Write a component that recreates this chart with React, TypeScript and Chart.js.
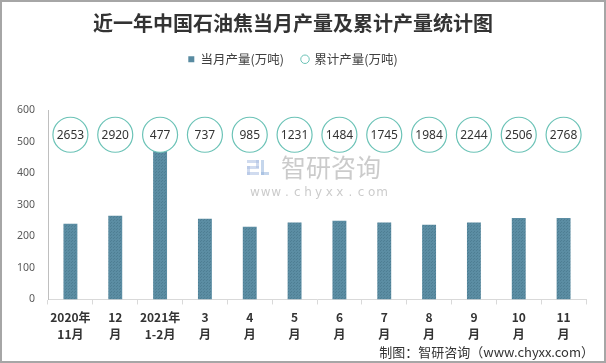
import React, { useEffect, useRef } from 'react';
import { Chart, registerables } from 'chart.js';

Chart.register(...registerables);

// ---- data ----
const categories: string[][] = [
  ['2020年', '11月'], ['12', '月'], ['2021年', '1-2月'], ['3', '月'], ['4', '月'], ['5', '月'],
  ['6', '月'], ['7', '月'], ['8', '月'], ['9', '月'], ['10', '月'], ['11', '月'],
];
const monthlyOutput = [240, 266, 477, 256, 231, 244, 250, 244, 237, 244, 259, 259];
const cumulativeOutput = [2653, 2920, 477, 737, 985, 1231, 1484, 1745, 1984, 2244, 2506, 2768];
const yMin = 0;
const yMax = 600;
const yStep = 100;

const TITLE = '近一年中国石油焦当月产量及累计产量统计图';
const LEGEND_MONTH = '当月产量(万吨)';
const LEGEND_CUM = '累计产量(万吨)';
const CREDIT = '制图：智研咨询（www.chyxx.com）';
const WM_CN = '智研咨询';
const WM_EN = 'www.chyxx.com';

// level (on the y scale) of the row of cumulative-value bubbles
const CUM_ROW_LEVEL = 523;

const CJK = '"Noto Sans CJK SC", "Noto Sans", sans-serif';
const BAR_COLOR = '#598ba1';
const CIRCLE_COLOR = '#6cc3b7';

export default function App() {
  const ref = useRef<HTMLCanvasElement | null>(null);

  useEffect(() => {
    const canvas = ref.current;
    if (!canvas) return;
    const ctx0 = canvas.getContext('2d')!;
    const pc = document.createElement('canvas');
    pc.width = 3; pc.height = 3;
    const pg = pc.getContext('2d')!;
    pg.fillStyle = '#5b8da3'; pg.fillRect(0, 0, 3, 3);
    pg.fillStyle = '#4e7e93'; pg.fillRect(0, 0, 1, 1); pg.fillRect(2, 1, 1, 1);
    const barPattern = ctx0.createPattern(pc, 'repeat') || BAR_COLOR;

    const framePlugin = {
      id: 'frame',
      beforeDraw(chart: any) {
        const c = chart.ctx;
        c.save();
        c.fillStyle = '#ffffff';
        c.fillRect(0, 0, chart.width, chart.height);
        c.restore();
      },
      afterDraw(chart: any) {
        const c = chart.ctx;
        c.save();
        c.strokeStyle = '#a6a6a6';
        c.lineWidth = 2;
        c.strokeRect(1, 1, chart.width - 2, chart.height - 2);
        c.fillStyle = '#333333';
        c.font = `13px ${CJK}`;
        c.textAlign = 'right';
        c.textBaseline = 'middle';
        c.fillText(CREDIT, chart.width - 12, 352);
        c.restore();
      },
    };

    const watermarkPlugin = {
      id: 'watermark',
      beforeDatasetsDraw(chart: any) {
        const c = chart.ctx;
        const cx = (chart.chartArea.left + chart.chartArea.right) / 2;
        c.save();
        c.fillStyle = 'rgba(170,190,225,0.55)';
        const lx = cx - 70, ly = 160;
        c.fillRect(lx, ly, 12, 3);
        c.fillRect(lx + 9, ly, 3, 8);
        c.fillRect(lx, ly + 6, 12, 3);
        c.fillRect(lx, ly + 6, 3, 9);
        c.fillRect(lx, ly + 12, 12, 3);
        c.fillStyle = 'rgba(150,180,220,0.55)';
        c.fillRect(lx + 14, ly, 3, 15);
        c.fillRect(lx + 14, ly + 12, 8, 3);
        c.fillStyle = 'rgba(160,160,160,0.55)';
        c.font = `25px ${CJK}`;
        c.textAlign = 'left';
        c.textBaseline = 'middle';
        c.fillText(WM_CN, cx - 36, 167);
        c.font = '12px "DejaVu Sans", sans-serif';
        c.textAlign = 'center';
        WM_EN.split('').forEach((ch, i) => {
          c.fillText(ch, cx - 62 + i * 10.6, 193);
        });
        c.restore();
      },
    };

    const cumLabelPlugin = {
      id: 'cumLabels',
      afterDatasetsDraw(chart: any) {
        const meta = chart.getDatasetMeta(1);
        const c = chart.ctx;
        c.save();
        c.fillStyle = '#333333';
        c.font = '12px "Noto Sans", sans-serif';
        c.textAlign = 'center';
        c.textBaseline = 'middle';
        meta.data.forEach((el: any, i: number) => {
          c.fillText(String(cumulativeOutput[i]), el.x, el.y + 0.5);
        });
        c.restore();
      },
    };

    const chart = new Chart(canvas, {
      type: 'bar',
      data: {
        labels: categories,
        datasets: [
          {
            type: 'bar',
            label: LEGEND_MONTH,
            data: monthlyOutput,
            backgroundColor: barPattern as any,
            borderWidth: 0,
            barPercentage: 0.31,
            categoryPercentage: 1,
            order: 2,
          },
          {
            type: 'line',
            label: LEGEND_CUM,
            data: cumulativeOutput.map(() => CUM_ROW_LEVEL),
            showLine: false,
            pointRadius: 17.5,
            pointHoverRadius: 17.5,
            pointBackgroundColor: '#ffffff',
            pointBorderColor: CIRCLE_COLOR,
            pointBorderWidth: 1.2,
            borderColor: CIRCLE_COLOR,
            backgroundColor: '#ffffff',
            order: 1,
          } as any,
        ],
      },
      options: {
        responsive: false,
        animation: false,
        events: [],
        layout: { padding: { left: 0, right: 20, top: 0, bottom: 16 } },
        plugins: {
          tooltip: { enabled: false },
          title: {
            display: true,
            text: TITLE,
            color: '#333333',
            font: { family: CJK, size: 20, weight: 'bold', lineHeight: 1.2 },
            padding: { top: 11, bottom: 0 },
          },
          subtitle: {
            display: true,
            text: '',
            weight: 500,
            font: { size: 1, lineHeight: 1 },
            padding: { top: 34, bottom: 0 },
          } as any,
          legend: {
            display: true,
            position: 'top',
            labels: {
              usePointStyle: true,
              boxWidth: 6,
              boxHeight: 6,
              padding: 18,
              color: '#404040',
              font: { family: CJK, size: 12.5 },
              generateLabels: (ch: any) => {
                const items = (Chart.defaults.plugins.legend.labels as any).generateLabels(ch);
                items.sort((a: any, b: any) => a.datasetIndex - b.datasetIndex);
                items.forEach((it: any) => {
                  if (it.datasetIndex === 0) {
                    it.pointStyle = 'rect';
                    it.fillStyle = BAR_COLOR;
                    it.strokeStyle = BAR_COLOR;
                    it.lineWidth = 0;
                  } else {
                    it.pointStyle = 'circle';
                    it.fillStyle = '#ffffff';
                    it.strokeStyle = CIRCLE_COLOR;
                    it.lineWidth = 1;
                  }
                });
                return items;
              },
            },
          },
        },
        scales: {
          x: {
            offset: true,
            grid: {
              display: true,
              drawOnChartArea: false,
              drawTicks: true,
              tickLength: 5,
              offset: true,
              color: '#d9d9d9',
            },
            border: { display: true, color: '#d9d9d9', width: 1 },
            ticks: {
              padding: 4,
              color: '#333333',
              autoSkip: false,
              maxRotation: 0,
              font: { family: CJK, size: 12, weight: 'bold', lineHeight: 1.44 },
            },
          },
          y: {
            min: yMin,
            max: yMax,
            afterFit: (s: any) => { s.width = 48; },
            grid: { display: false, drawTicks: false, tickLength: 0 },
            border: { display: true, color: '#bfbfbf', width: 1 },
            ticks: {
              stepSize: yStep,
              padding: 13,
              color: '#595959',
              font: { family: '"Noto Sans", sans-serif', size: 10.5 },
            },
          },
        },
      },
      plugins: [framePlugin, watermarkPlugin, cumLabelPlugin],
    });

    return () => chart.destroy();
  }, []);

  return (
    <div style={{ position: 'fixed', left: 0, top: 0, width: 606, height: 363 }}>
      <canvas ref={ref} width={606} height={363} style={{ width: 606, height: 363, display: 'block' }} />
    </div>
  );
}
